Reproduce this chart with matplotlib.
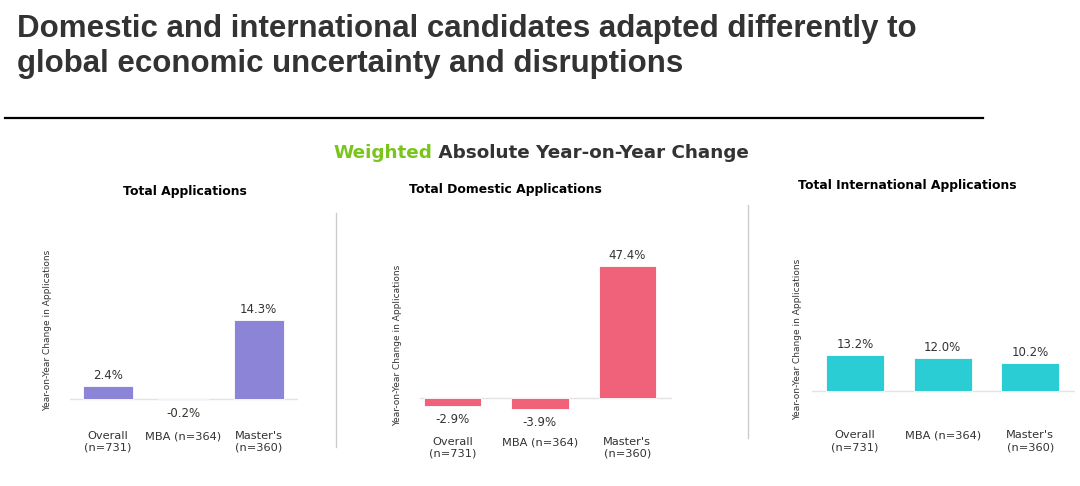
import matplotlib.pyplot as plt
from matplotlib.lines import Line2D

W, H = 1080, 486

categories = ["Overall\n(n=731)", "MBA (n=364)", "Master's\n(n=360)"]
total_vals = [2.4, -0.2, 14.3]
domestic_vals = [-2.9, -3.9, 47.4]
intl_vals = [13.2, 12.0, 10.2]
panel_titles = ["Total Applications", "Total Domestic Applications", "Total International Applications"]
colors = ["#8B84D7", "#F0627A", "#2ACDD3"]

plt.rcParams['font.family'] = ['DejaVu Sans']
fig = plt.figure(figsize=(W / 100, H / 100), dpi=100)


def px_axes(x0, x1, ytop, ybot):
    return fig.add_axes([x0 / W, 1 - ybot / H, (x1 - x0) / W, (ybot - ytop) / H])


def fx(x):
    return x / W


def fy(y):
    return 1 - y / H


# header
fig.text(fx(17), fy(14), "Domestic and international candidates adapted differently to\nglobal economic uncertainty and disruptions",
         family=['Liberation Sans', 'DejaVu Sans'], fontweight='bold', fontsize=22.5,
         color='#333333', va='top', ha='left', linespacing=1.22)
fig.add_artist(Line2D([fx(5), fx(983)], [fy(118), fy(118)], color='black', lw=1.6))

w_txt = fig.text(fx(333), fy(153), "Weighted", color='#7AC51C', fontsize=13.2, fontweight='bold', va='center')
fig.canvas.draw()
bb = w_txt.get_window_extent()
fig.text(bb.x1 / W, fy(153), " Absolute Year-on-Year Change", va='center', ha='left',
         fontsize=13.2, fontweight='bold', color='#333333')

# separators
fig.add_artist(Line2D([fx(336), fx(336)], [fy(213), fy(447)], color='#cccccc', lw=1))
fig.add_artist(Line2D([fx(748), fx(748)], [fy(205), fy(438)], color='#cccccc', lw=1))

panels = [
    # values, x0, x1, ytop, ybot, ylim, xlim, tick pad, title x, title y, ylabel x, ylabel y frac
    (total_vals, 70, 298, 240, 420, (-3.8, 28.8), (-0.5, 2.52), 8, 185, 192, 52, 0.5),
    (domestic_vals, 420, 672, 250, 420, (-7.9, 53.2), (-0.37, 2.51), 12.5, 505, 190, 402, 0.44),
    (intl_vals, 812, 1075, 240, 420, (-10.6, 55.3), (-0.49, 2.51), 7.5, 907, 185, 802, 0.45),
]

for i, (vals, x0, x1, ytop, ybot, ylim, xlim, pad, tx, ty, lx, ly) in enumerate(panels):
    ax = px_axes(x0, x1, ytop, ybot)
    xs = range(len(vals))
    ax.bar(xs, vals, width=0.66, color=colors[i], edgecolor='white', linewidth=0.6, zorder=2)
    ax.axhline(0, color='#e3e3e3', lw=1, zorder=1)
    for x, v in zip(xs, vals):
        if v >= 0:
            ax.annotate(f"{v:.1f}%", (x, v), xytext=(0, 3), textcoords='offset points',
                        ha='center', va='bottom', fontsize=8.5, color='#333333')
        else:
            ax.annotate(f"{v:.1f}%", (x, v), xytext=(0, -5), textcoords='offset points',
                        ha='center', va='top', fontsize=8.5, color='#333333')
    ax.set_ylim(*ylim)
    ax.set_xlim(*xlim)
    ax.set_xticks(list(xs))
    ax.set_xticklabels(categories, fontsize=8.2, color='#333333')
    ax.tick_params(axis='x', length=0, pad=pad)
    ax.set_yticks([])
    for s in ax.spines.values():
        s.set_visible(False)
    ax.patch.set_alpha(0)
    ax.set_ylabel("Year-on-Year Change in Applications", fontsize=6.5, color='#333333')
    ax.yaxis.set_label_coords((lx - x0) / (x1 - x0), ly)
    fig.text(fx(tx), fy(ty), panel_titles[i], ha='center', va='center', fontsize=8.9,
             fontweight='bold', color='black')

fig.savefig("out.png", dpi=100)
